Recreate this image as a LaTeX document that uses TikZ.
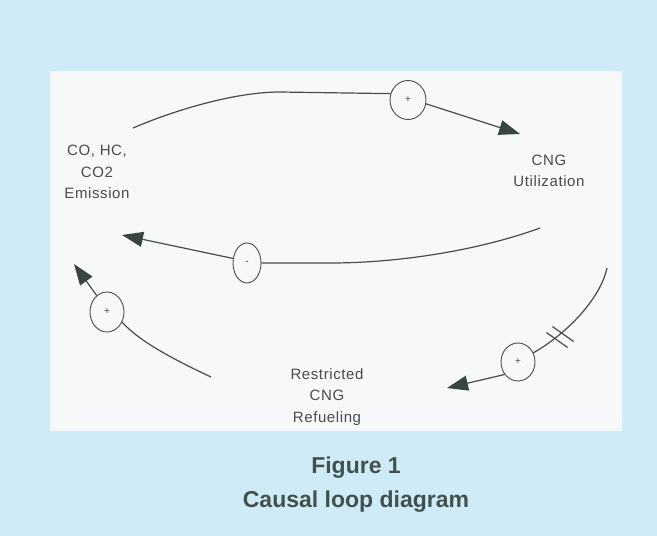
\documentclass[tikz,border=0pt]{standalone}
\usepackage{fontspec}
\setmainfont{Liberation Sans}
\newfontfamily\diafont[LetterSpace=4]{Liberation Sans}
\usetikzlibrary{arrows.meta,shapes.geometric}
\definecolor{bgblue}{RGB}{206,235,247}
\definecolor{panel}{RGB}{246,248,250}
\definecolor{ink}{RGB}{72,76,76}
\definecolor{tipc}{RGB}{56,70,62}
\definecolor{capc}{RGB}{66,80,78}
\begin{document}
\begin{tikzpicture}[x=1pt,y=-1pt,
  lbl/.style={font=\diafont\fontsize{15}{21.5}\selectfont, text=ink, align=center, inner sep=0pt},
  pol/.style={draw=ink, ellipse, line width=0.9pt, inner sep=0pt, minimum width=34pt, minimum height=38pt, font=\fontsize{10}{10}\selectfont, text=ink},
  link/.style={draw=ink, line width=1.2pt},
  head/.style={-{Triangle[length=21pt,width=15pt,color=tipc]}},
  captxt/.style={font=\bfseries\fontsize{23}{28}\selectfont, text=capc, inner sep=0pt}]
\useasboundingbox (0,0) rectangle (657,536);
\fill[bgblue] (0,0) rectangle (657,536);
\fill[panel] (50,71) rectangle (622,431);

% variables
\node[lbl] (em) at (97,172) {CO, HC,\\CO2\\Emission};
\node[lbl] (cng) at (549,171) {CNG\\Utilization};
\node[lbl] (rr) at (327,397) {Restricted\\CNG\\Refueling};

% polarity circles
\node[pol, minimum width=36pt, minimum height=39pt] (p1) at (408,100) {+};
\node[pol, minimum width=28pt, minimum height=40pt] (p2) at (247,263) {-};
\node[pol] (p3) at (518,362) {+};
\node[pol, minimum height=40pt] (p4) at (107,312) {+};

% free ends
\coordinate (s1) at (133,128);
\coordinate (t1) at (520,134);
\coordinate (s2) at (540,228);
\coordinate (t2) at (122,235);
\coordinate (s3) at (607,268);
\coordinate (t3) at (447,388);
\coordinate (s4) at (211,377);
\coordinate (t4) at (74,264);

% links
\draw[link] (s1) .. controls (175,110) and (235,92) .. (280,92) -- (p1.160);
\draw[link,head] (p1.-12) -- (t1);

\draw[link] (s2) .. controls (480,250) and (400,263) .. (330,263) -- (p2.east);
\draw[link,head] (p2.162) -- (t2);

\draw[link] (s3) .. controls (600,300) and (565,335) .. (p3.31);
\draw[link,head] (p3.223) -- (t3);

\draw[link] (s4) .. controls (175,360) and (140,342) .. (p4.-34);
\draw[link,head] (p4.122) -- (t4);

% delay marks
\draw[link] (552.4,326.5) -- (573.6,341.5);
\draw[link] (546.4,332.5) -- (567.6,347.5);

% caption
\node[captxt] (f1) at (356,468) {Figure 1};
\node[captxt] (f2) at (356,502) {Causal loop diagram};
\end{tikzpicture}
\end{document}
